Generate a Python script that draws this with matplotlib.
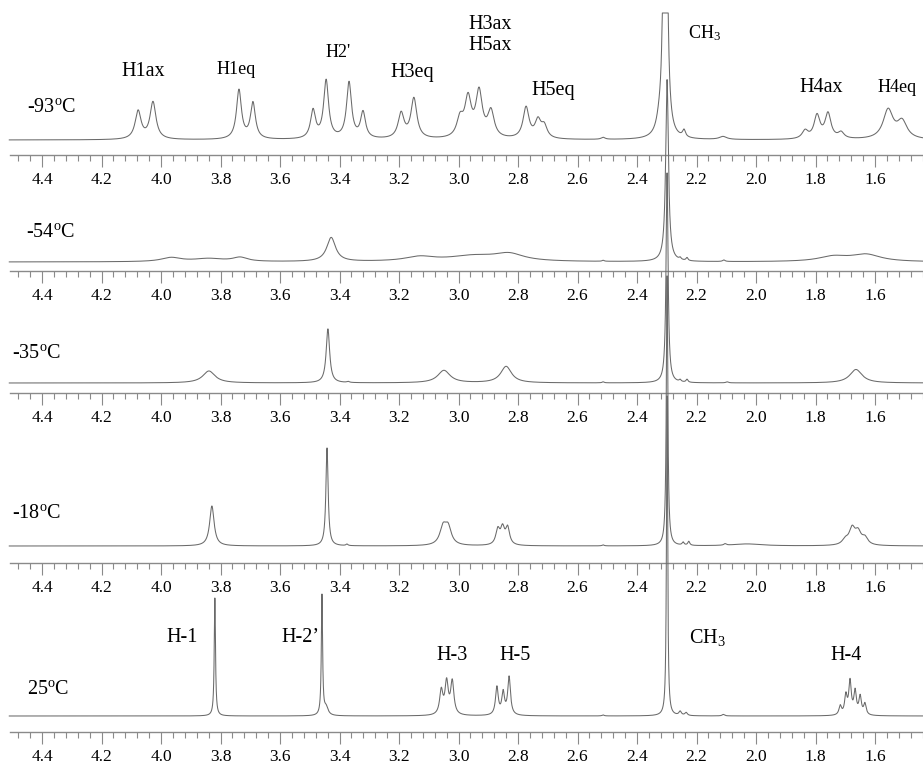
import numpy as np
import matplotlib
matplotlib.use('Agg')
from matplotlib import pyplot as plt
from matplotlib.ticker import MultipleLocator, FormatStrFormatter

plt.rcParams['font.family'] = ['Liberation Serif', 'DejaVu Serif']
plt.rcParams['mathtext.fontset'] = 'custom'
plt.rcParams['mathtext.rm'] = 'Liberation Serif'
plt.rcParams['mathtext.it'] = 'Liberation Serif:italic'

# peak tables (shift in ppm, height, half width in ppm) for each temperature
temps = ['-93', '-54', '-35', '-18', '25']

pos_m93 = [4.077, 4.027, 3.738, 3.691, 3.489, 3.445, 3.368, 3.321, 3.193, 3.150,
           2.995, 2.968, 2.931, 2.891, 2.773, 2.733, 2.712, 2.514, 2.325, 2.305,
           2.242, 2.111, 1.835, 1.795, 1.758, 1.714, 1.556, 1.509]
amp_m93 = [28, 37, 49, 36, 28, 58, 56, 26, 25, 40,
           18, 38, 45, 26, 31, 17, 12, 2, 10, 900,
           7, 3, 8, 23, 25, 6, 29, 17]
hw_m93 = [0.012, 0.012, 0.010, 0.010, 0.010, 0.010, 0.010, 0.010, 0.012, 0.012,
          0.013, 0.013, 0.013, 0.013, 0.012, 0.012, 0.012, 0.008, 0.012, 0.004,
          0.006, 0.015, 0.012, 0.012, 0.012, 0.012, 0.020, 0.020]

pos_m54 = [3.966, 3.840, 3.734, 3.428, 3.130, 2.950, 2.830, 2.514, 2.299, 2.255,
           2.232, 2.108, 1.740, 1.630]
amp_m54 = [4, 3, 4, 24, 4.5, 5.5, 7, 1, 182, 2,
           3, 1.5, 5, 7]
hw_m54 = [0.040, 0.060, 0.030, 0.018, 0.060, 0.100, 0.060, 0.004, 0.0055, 0.004,
          0.004, 0.005, 0.060, 0.060]

pos_m35 = [3.839, 3.439, 3.371, 3.049, 2.840, 2.514, 2.299, 2.255, 2.232, 2.097,
           1.664]
amp_m35 = [12, 54, 1, 12.5, 16.5, 1, 210, 2, 3, 1,
           13.5]
hw_m35 = [0.025, 0.007, 0.005, 0.025, 0.022, 0.004, 0.004, 0.004, 0.004, 0.005,
          0.025]

pos_m18 = [3.829, 3.442, 3.375, 3.052, 3.035, 2.868, 2.852, 2.835, 2.514, 2.299,
           2.245, 2.226, 2.104, 2.030, 1.700, 1.677, 1.657, 1.634]
amp_m18 = [40, 98, 1.5, 17, 17, 15, 16, 17, 1, 270,
           3, 4, 1.5, 2, 5, 16, 12, 7]
hw_m18 = [0.009, 0.0045, 0.004, 0.013, 0.013, 0.008, 0.008, 0.008, 0.004, 0.003,
          0.004, 0.004, 0.005, 0.060, 0.012, 0.012, 0.012, 0.012]

pos_p25 = [3.819, 3.459, 3.445, 3.058, 3.040, 3.021, 2.871, 2.850, 2.830, 2.514,
           2.299, 2.255, 2.235, 2.110, 1.717, 1.698, 1.684, 1.667, 1.650, 1.634]
amp_p25 = [118, 120, 8, 24, 32, 33, 28, 22, 38, 1,
           320, 4, 3, 1.5, 9, 19, 33, 23, 18, 11]
hw_p25 = [0.0025, 0.0025, 0.008, 0.0065, 0.0065, 0.0065, 0.0055, 0.0055, 0.0055, 0.004,
          0.0024, 0.005, 0.005, 0.005, 0.005, 0.005, 0.005, 0.005, 0.005, 0.005]

tables = [(pos_m93, amp_m93, hw_m93), (pos_m54, amp_m54, hw_m54),
          (pos_m35, amp_m35, hw_m35), (pos_m18, amp_m18, hw_m18),
          (pos_p25, amp_p25, hw_p25)]


def spectrum(ppm, pos, amp, hw):
    y = np.zeros_like(ppm)
    for p, a, w in zip(pos, amp, hw):
        y += a / (1 + ((ppm - p) / w) ** 2)
    return y


W, H = 923, 766
fig = plt.figure(figsize=(W / 100, H / 100), dpi=100)

# panel geometry in pixels from the top: axis line, baseline, top of panel
axis_y = [155, 271, 393, 563, 732]
base_y = [140, 262, 383, 546, 716]
top_y = [13, 200, 320, 440, 590]

ppm = np.linspace(4.51, 1.43, 30000)
line_col = '#6a6a6a'
axis_col = '#8a8a8a'

# assignments drawn on each panel: text, ppm, height above baseline, size, ha
notes = [
    [('H1ax', 4.060, 68, 14.5, 'center'), ('H1eq', 3.748, 70, 13, 'center'),
     ("H2'", 3.405, 87, 13, 'center'), ('H3eq', 3.156, 68, 14.5, 'center'),
     ('H3ax\nH5ax', 2.894, 105, 14.5, 'center'), ('H5eq', 2.682, 50, 14.5, 'center'),
     ('CH$_\\mathrm{3}$', 2.229, 107, 13, 'left'), ('H4ax', 1.782, 52, 14.5, 'center'),
     ('H4eq', 1.526, 53, 13, 'center')],
    [], [], [],
    [('H-1', 3.929, 79, 14.5, 'center'), ('H-2\u2019', 3.533, 79, 14.5, 'center'),
     ('H-3', 3.022, 61, 14.5, 'center'), ('H-5', 2.810, 61, 14.5, 'center'),
     ('CH$_\\mathrm{3}$', 2.225, 78, 14.5, 'left'), ('H-4', 1.697, 61, 14.5, 'center')],
]
temp_xy = [(4.37, 32), (4.373, 30), (4.42, 30), (4.42, 33), (4.38, 26)]

for i, (pos, amp, hw) in enumerate(tables):
    ax = fig.add_axes([10 / W, (H - axis_y[i]) / H, 913 / W, (axis_y[i] - top_y[i]) / H])
    ax.patch.set_visible(False)
    ax.set_xlim(4.5076, 1.4387)
    ax.set_ylim(-(axis_y[i] - base_y[i]), base_y[i] - top_y[i])
    y = spectrum(ppm, pos, amp, hw)
    if i == 0:
        # the methyl line runs off the top of the first trace
        y = np.minimum(y, base_y[0] - top_y[0])
    ax.plot(ppm, y, color=line_col, lw=0.75, clip_on=False)

    for s in ['top', 'left', 'right']:
        ax.spines[s].set_visible(False)
    ax.spines['bottom'].set_color(axis_col)
    ax.spines['bottom'].set_linewidth(1.0)
    ax.set_yticks([])
    ax.xaxis.set_major_locator(MultipleLocator(0.2))
    ax.xaxis.set_minor_locator(MultipleLocator(0.04))
    ax.xaxis.set_major_formatter(FormatStrFormatter('%.1f'))
    ax.tick_params(axis='x', which='major', direction='out', length=8.5, width=0.8,
                   color=axis_col, labelsize=12.5, pad=3.5)
    ax.tick_params(axis='x', which='minor', direction='out', length=4.3, width=0.8,
                   color=axis_col)

    tx, ty = temp_xy[i]
    ax.text(tx, ty, temps[i] + '$^\\mathrm{o}$C', fontsize=14.5, ha='center', va='center')
    for txt, x, h, size, ha in notes[i]:
        ax.text(x, h, txt, fontsize=size, ha=ha, va='center', linespacing=1.15)

fig.savefig('out.png', dpi=100)
